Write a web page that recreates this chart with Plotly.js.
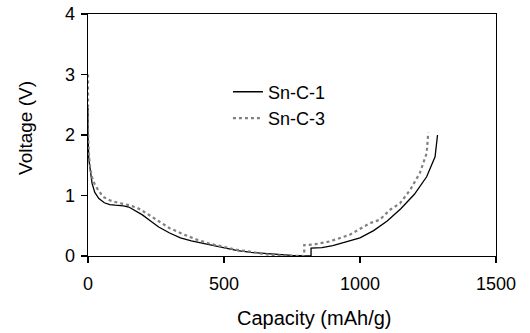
<!DOCTYPE html>
<html><head><meta charset="utf-8">
<script src="https://cdn.plot.ly/plotly-3.0.1.min.js"></script>
<style>html,body{margin:0;padding:0;background:#fff;}#chart{width:530px;height:333px;}</style>
</head><body><div id="chart"></div>
<script>
const seriesNames = ["Sn-C-1", "Sn-C-3"];
const capSnC1 = [0, 0, 3, 8, 15, 25, 40, 60, 80, 100, 130, 150, 170, 200, 230, 260, 300, 340, 380, 420, 460, 500, 550, 600, 650, 700, 750, 800, 820, 820, 860, 900, 950, 1000, 1050, 1100, 1150, 1200, 1245, 1276, 1285];
const voltSnC1 = [2.45, 2.0, 1.6, 1.4, 1.2, 1.05, 0.95, 0.88, 0.85, 0.84, 0.83, 0.81, 0.76, 0.68, 0.58, 0.48, 0.38, 0.3, 0.25, 0.21, 0.17, 0.13, 0.09, 0.06, 0.04, 0.02, 0.01, 0.0, 0.0, 0.13, 0.14, 0.17, 0.23, 0.3, 0.42, 0.58, 0.78, 1.02, 1.31, 1.64, 2.0];
const capSnC3 = [0, 0, 3, 8, 15, 25, 36, 55, 80, 110, 150, 180, 210, 250, 300, 350, 400, 450, 500, 550, 600, 650, 700, 750, 795, 795, 830, 888, 962, 1035, 1073, 1109, 1147, 1184, 1220, 1245, 1251];
const voltSnC3 = [3.0, 2.1, 1.7, 1.45, 1.3, 1.18, 1.1, 0.98, 0.92, 0.88, 0.84, 0.8, 0.72, 0.6, 0.46, 0.36, 0.27, 0.2, 0.15, 0.1, 0.07, 0.03, 0.01, 0, 0, 0.18, 0.19, 0.24, 0.35, 0.54, 0.6, 0.76, 0.87, 1.09, 1.37, 1.70, 2.04];
const xTicks = [0, 500, 1000, 1500];
const yTicks = [0, 1, 2, 3, 4];
const xTitle = "Capacity (mAh/g)";
const yTitle = "Voltage (V)";

const font = "Liberation Sans, Arial, sans-serif";
const traces = [
  {x: capSnC1, y: voltSnC1, name: seriesNames[0], mode: "lines", line: {color: "#000", width: 1.3}},
  {x: capSnC3, y: voltSnC3, name: seriesNames[1], mode: "lines", line: {color: "#808080", width: 2.2, dash: "dot"}}
];
const axisCommon = {showline: true, linecolor: "#000", linewidth: 1.4, mirror: true, showgrid: false, zeroline: false,
  ticks: "outside", ticklen: 6, tickwidth: 1.3, tickcolor: "#000", tickfont: {family: font, size: 18, color: "#000"}};
const layout = {
  width: 530, height: 333,
  margin: {l: 88, r: 34, t: 14, b: 77},
  paper_bgcolor: "#fff", plot_bgcolor: "#fff",
  showlegend: true,
  legend: {x: 0.343, y: 0.754, xanchor: "left", yanchor: "top", bgcolor: "rgba(0,0,0,0)", font: {family: font, size: 18, color: "#000"}},
  xaxis: Object.assign({}, axisCommon, {range: [0, 1500], tickvals: xTicks, ticktext: xTicks.map(String), ticklabelstandoff: 5}),
  yaxis: Object.assign({}, axisCommon, {range: [0, 4], tickvals: yTicks, ticktext: yTicks.map(String), ticklabelstandoff: 2}),
  annotations: [
    {text: xTitle, xref: "paper", yref: "paper", x: 0.556, y: -0.256, xanchor: "center", yanchor: "middle", showarrow: false,
     font: {family: font, size: 20, color: "#000"}},
    {text: yTitle, xref: "paper", yref: "paper", x: -0.152, y: 0.529, xanchor: "center", yanchor: "middle", textangle: -90, showarrow: false,
     font: {family: font, size: 19, color: "#000"}}
  ]
};
Plotly.newPlot("chart", traces, layout, {staticPlot: true, displayModeBar: false});
</script></body></html>
